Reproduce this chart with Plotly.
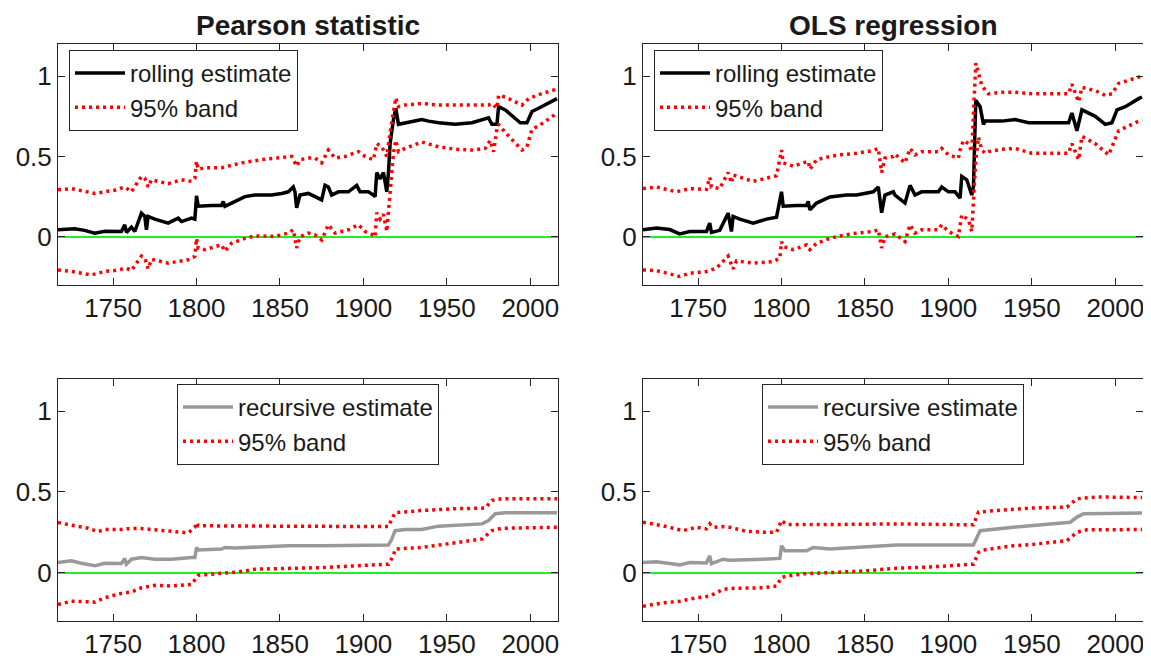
import plotly.graph_objects as go

# ---------------- data ----------------
# Pearson statistic, rolling estimate
p_roll_year = [1717, 1721, 1727, 1733, 1739, 1745, 1755, 1757, 1758, 1761, 1763, 1767, 1769, 1770, 1771, 1775,
               1783, 1789, 1791, 1797, 1799, 1800, 1801, 1809, 1815, 1816, 1817, 1821, 1829, 1835, 1845, 1851,
               1855, 1858, 1859, 1860, 1862, 1867, 1869, 1875, 1877, 1879, 1881, 1885, 1891, 1896, 1898, 1903,
               1906, 1907, 1908, 1910, 1912, 1914, 1915, 1916, 1918, 1919.4, 1921, 1925, 1935, 1939, 1945, 1955,
               1965, 1975, 1977, 1980, 1981, 1985, 1991, 1994, 1998, 2001, 2005, 2011, 2015, 2016]
p_roll_val = [0.044, 0.045, 0.05, 0.04, 0.023, 0.035, 0.033, 0.075, 0.027, 0.06, 0.033, 0.147, 0.127, 0.044, 0.127, 0.11,
              0.085, 0.116, 0.095, 0.116, 0.11, 0.255, 0.19, 0.195, 0.195, 0.22, 0.19, 0.21, 0.25, 0.26, 0.26, 0.27,
              0.28, 0.31, 0.28, 0.18, 0.26, 0.27, 0.26, 0.23, 0.32, 0.31, 0.26, 0.28, 0.28, 0.32, 0.28, 0.28,
              0.26, 0.25, 0.40, 0.36, 0.40, 0.28, 0.40, 0.58, 0.73, 0.80, 0.70, 0.71, 0.73, 0.72, 0.71, 0.70,
              0.71, 0.74, 0.70, 0.70, 0.81, 0.79, 0.74, 0.71, 0.71, 0.78, 0.80, 0.83, 0.85, 0.86]

p_up_year = [1717, 1725, 1739, 1751, 1757, 1759, 1761, 1767, 1769, 1771, 1773, 1783, 1791, 1797, 1799, 1800,
             1801, 1805, 1815, 1819, 1827, 1839, 1847, 1857, 1860, 1862, 1867, 1871, 1875, 1879, 1883, 1889,
             1897, 1901, 1906, 1908, 1911, 1914, 1916, 1918, 1919.4, 1921, 1925, 1935, 1945, 1965, 1975, 1977,
             1980, 1981, 1985, 1991, 1995, 1999, 2005, 2016]
p_up_val = [0.293, 0.30, 0.27, 0.29, 0.31, 0.295, 0.28, 0.376, 0.365, 0.31, 0.355, 0.33, 0.355, 0.345, 0.365, 0.47,
            0.42, 0.43, 0.43, 0.44, 0.46, 0.48, 0.49, 0.50, 0.44, 0.48, 0.49, 0.49, 0.46, 0.54, 0.49, 0.50,
            0.53, 0.50, 0.48, 0.58, 0.56, 0.50, 0.65, 0.79, 0.865, 0.81, 0.82, 0.83, 0.82, 0.82, 0.82, 0.83,
            0.80, 0.88, 0.87, 0.84, 0.82, 0.86, 0.885, 0.92]

p_lo_year = [1717, 1725, 1737, 1745, 1751, 1758, 1761, 1767, 1769, 1771, 1773, 1783, 1795, 1799, 1800, 1801,
             1805, 1815, 1817, 1821, 1829, 1835, 1847, 1855, 1858, 1860, 1862, 1867, 1871, 1875, 1879, 1883,
             1891, 1897, 1901, 1906, 1907, 1908, 1910, 1912, 1914, 1916, 1918, 1919.4, 1921, 1925, 1935, 1945,
             1955, 1965, 1973, 1976, 1978, 1980, 1981, 1985, 1991, 1995, 1998, 2001, 2005, 2016]
p_lo_val = [-0.206, -0.216, -0.237, -0.216, -0.21, -0.195, -0.21, -0.12, -0.13, -0.2, -0.14, -0.164, -0.143, -0.122, -0.01, -0.07,
            -0.08, -0.05, -0.09, -0.04, -0.01, 0.006, 0.002, 0.023, 0.044, -0.07, 0.0, 0.023, 0.012, -0.02, 0.075, 0.023,
            0.044, 0.075, 0.033, 0.012, 0.0, 0.15, 0.11, 0.14, 0.033, 0.29, 0.52, 0.60, 0.53, 0.55, 0.59, 0.56,
            0.545, 0.54, 0.55, 0.60, 0.53, 0.67, 0.70, 0.65, 0.58, 0.54, 0.56, 0.67, 0.69, 0.77]

# OLS regression, rolling estimate
o_roll_year = [1717, 1725, 1733, 1739, 1745, 1755, 1757, 1758, 1763, 1768, 1770, 1771, 1775, 1783, 1791, 1797,
               1800, 1801, 1809, 1815, 1816, 1817, 1821, 1829, 1839, 1845, 1855, 1858, 1860, 1862, 1867, 1868,
               1874, 1877, 1880, 1884, 1894, 1896, 1900, 1904, 1907, 1908, 1911, 1914, 1915, 1916.4, 1919, 1921,
               1922, 1932, 1940, 1948, 1960, 1972, 1974, 1977, 1980, 1984, 1988, 1994, 1998, 2001, 2006, 2014, 2016]
o_roll_val = [0.044, 0.054, 0.045, 0.018, 0.033, 0.033, 0.085, 0.027, 0.04, 0.147, 0.033, 0.127, 0.11, 0.085, 0.11, 0.122,
              0.28, 0.19, 0.195, 0.195, 0.22, 0.168, 0.21, 0.248, 0.26, 0.26, 0.28, 0.31, 0.15, 0.26, 0.28, 0.26,
              0.21, 0.32, 0.26, 0.28, 0.28, 0.31, 0.28, 0.28, 0.24, 0.376, 0.355, 0.26, 0.31, 0.85, 0.81, 0.70,
              0.72, 0.72, 0.73, 0.71, 0.71, 0.71, 0.77, 0.66, 0.79, 0.77, 0.75, 0.70, 0.71, 0.79, 0.81, 0.86, 0.87]

o_up_year = [1717, 1725, 1737, 1745, 1755, 1757, 1758, 1763, 1768, 1770, 1771, 1775, 1783, 1791, 1797, 1800,
             1801, 1807, 1816, 1817, 1821, 1829, 1835, 1845, 1855, 1858, 1860, 1862, 1867, 1868, 1874, 1877,
             1880, 1884, 1894, 1896, 1900, 1906, 1907, 1909, 1912, 1914, 1916.4, 1918, 1920, 1924, 1932, 1940,
             1950, 1972, 1974, 1978, 1980, 1984, 1988, 1994, 1998, 2002, 2016]
o_up_val = [0.30, 0.31, 0.28, 0.30, 0.295, 0.37, 0.31, 0.30, 0.40, 0.335, 0.385, 0.37, 0.345, 0.365, 0.38, 0.54,
            0.46, 0.44, 0.47, 0.42, 0.48, 0.50, 0.51, 0.52, 0.537, 0.55, 0.40, 0.49, 0.50, 0.515, 0.46, 0.55,
            0.51, 0.53, 0.53, 0.55, 0.51, 0.49, 0.54, 0.60, 0.58, 0.53, 1.08, 1.02, 0.94, 0.89, 0.90, 0.90,
            0.89, 0.89, 0.95, 0.84, 0.93, 0.92, 0.91, 0.88, 0.89, 0.955, 1.0]

o_lo_year = [1717, 1725, 1739, 1745, 1755, 1758, 1761, 1768, 1771, 1773, 1783, 1795, 1799, 1800, 1801, 1807,
             1815, 1817, 1821, 1829, 1835, 1845, 1855, 1858, 1860, 1862, 1867, 1868, 1874, 1877, 1880, 1884,
             1894, 1896, 1900, 1906, 1908, 1912, 1914, 1916.4, 1918, 1920, 1922, 1924, 1932, 1940, 1950, 1972,
             1974, 1978, 1980, 1984, 1988, 1996, 2002, 2016]
o_lo_val = [-0.206, -0.21, -0.247, -0.227, -0.216, -0.206, -0.195, -0.12, -0.2, -0.15, -0.164, -0.154, -0.133, -0.03, -0.06, -0.08,
            -0.05, -0.08, -0.04, -0.01, 0.006, 0.023, 0.033, 0.044, -0.07, 0.0, 0.012, 0.018, -0.03, 0.075, 0.023, 0.044,
            0.044, 0.075, 0.033, 0.002, 0.137, 0.106, 0.033, 0.48, 0.62, 0.54, 0.52, 0.53, 0.545, 0.55, 0.52, 0.52,
            0.58, 0.48, 0.625, 0.60, 0.58, 0.51, 0.66, 0.73]

# Pearson statistic, recursive estimate
p_rec_year = [1717, 1725, 1731, 1739, 1745, 1755, 1757, 1758, 1761, 1767, 1775, 1785, 1797, 1799, 1800, 1801,
              1815, 1817, 1823, 1835, 1855, 1875, 1895, 1915, 1917, 1919, 1925, 1935, 1945, 1955, 1971, 1975,
              1979, 1985, 2016]
p_rec_val = [0.0625, 0.073, 0.058, 0.042, 0.058, 0.056, 0.088, 0.052, 0.083, 0.094, 0.083, 0.083, 0.094, 0.094, 0.156, 0.14,
             0.146, 0.156, 0.152, 0.156, 0.167, 0.167, 0.171, 0.171, 0.208, 0.26, 0.267, 0.267, 0.288, 0.292, 0.302, 0.323,
             0.365, 0.371, 0.371]
p_rup_year = [1717, 1725, 1735, 1741, 1745, 1755, 1757, 1765, 1775, 1785, 1795, 1799, 1800, 1801, 1815, 1855,
              1895, 1915, 1917, 1919, 1935, 1955, 1973, 1977, 1983, 2016]
p_rup_val = [0.31, 0.296, 0.275, 0.254, 0.267, 0.267, 0.271, 0.275, 0.267, 0.254, 0.246, 0.281, 0.31, 0.29, 0.29, 0.29,
             0.285, 0.285, 0.333, 0.371, 0.385, 0.396, 0.40, 0.448, 0.458, 0.458]
p_rlo_year = [1717, 1725, 1739, 1745, 1755, 1761, 1767, 1775, 1785, 1797, 1800, 1801, 1815, 1825, 1835, 1855,
              1875, 1895, 1915, 1918, 1919, 1935, 1955, 1971, 1977, 1983, 2016]
p_rlo_val = [-0.198, -0.177, -0.183, -0.156, -0.129, -0.12, -0.094, -0.079, -0.083, -0.073, -0.031, -0.017, -0.004, 0.004, 0.021, 0.025,
             0.031, 0.042, 0.052, 0.104, 0.146, 0.156, 0.1875, 0.208, 0.26, 0.275, 0.281]

# OLS regression, recursive estimate
o_rec_year = [1717, 1725, 1733, 1739, 1745, 1755, 1757, 1758, 1765, 1769, 1789, 1799, 1800, 1802, 1815, 1819,
              1829, 1849, 1869, 1915, 1917, 1919, 1939, 1959, 1973, 1977, 1981, 2016]
o_rec_val = [0.0625, 0.067, 0.056, 0.048, 0.0625, 0.06, 0.104, 0.056, 0.083, 0.077, 0.083, 0.088, 0.167, 0.135, 0.135, 0.156,
             0.146, 0.16, 0.171, 0.171, 0.22, 0.26, 0.281, 0.298, 0.3125, 0.344, 0.365, 0.369]
o_rup_year = [1717, 1729, 1741, 1749, 1755, 1757, 1759, 1765, 1769, 1779, 1789, 1797, 1800, 1803, 1829, 1849,
              1869, 1915, 1918, 1929, 1949, 1971, 1977, 1989, 2016]
o_rup_val = [0.3125, 0.29, 0.26, 0.281, 0.271, 0.302, 0.281, 0.285, 0.281, 0.256, 0.25, 0.25, 0.323, 0.298, 0.298, 0.302,
             0.302, 0.296, 0.375, 0.385, 0.40, 0.406, 0.458, 0.469, 0.465]
o_rlo_year = [1717, 1729, 1739, 1749, 1757, 1765, 1769, 1789, 1797, 1800, 1803, 1815, 1829, 1849, 1869, 1889,
              1915, 1918, 1921, 1939, 1949, 1971, 1977, 1983, 2016]
o_rlo_val = [-0.208, -0.188, -0.177, -0.156, -0.146, -0.104, -0.098, -0.094, -0.083, -0.031, -0.021, -0.006, 0.0, 0.01, 0.027, 0.035,
             0.052, 0.125, 0.14, 0.167, 0.173, 0.198, 0.25, 0.265, 0.267]

titles = ["Pearson statistic", "OLS regression"]
x_ticks = [1750, 1800, 1850, 1900, 1950, 2000]
y_ticks = [0, 0.5, 1]
y_tick_text = ["0", "0.5", "1"]

# ---------------- figure ----------------
OFF = 8                      # page body margin of the browser
W, H = 1151 - OFF, 662 - OFF
FONT = "Liberation Sans, Arial, sans-serif"
TXT = "#1a1a1a"
AX = "#262626"
RED = "#ff0000"
GRAY = "#999999"

fig = go.Figure()

panels = [
    ("x", "y", "legend", p_roll_year, p_roll_val, "rolling estimate", "black", p_up_year, p_up_val, p_lo_year, p_lo_val),
    ("x2", "y2", "legend2", o_roll_year, o_roll_val, "rolling estimate", "black", o_up_year, o_up_val, o_lo_year, o_lo_val),
    ("x3", "y3", "legend3", p_rec_year, p_rec_val, "recursive estimate", GRAY, p_rup_year, p_rup_val, p_rlo_year, p_rlo_val),
    ("x4", "y4", "legend4", o_rec_year, o_rec_val, "recursive estimate", GRAY, o_rup_year, o_rup_val, o_rlo_year, o_rlo_val),
]

for xa, ya, lg, mx, my, mname, mcol, ux, uy, lx, ly in panels:
    fig.add_trace(go.Scatter(x=mx, y=my, mode="lines", name=mname, xaxis=xa, yaxis=ya, legend=lg,
                             line=dict(color=mcol, width=3.5)))
    fig.add_trace(go.Scatter(x=ux, y=uy, mode="lines", name="95% band", xaxis=xa, yaxis=ya, legend=lg,
                             line=dict(color=RED, width=3.5, dash="3px,4px")))
    fig.add_trace(go.Scatter(x=lx, y=ly, mode="lines", name="95% band", xaxis=xa, yaxis=ya, legend=lg,
                             showlegend=False, line=dict(color=RED, width=3.5, dash="3px,4px")))

def px_x(p):
    return (p - OFF) / W

def px_y(p):
    return 1 - (p - OFF) / H

xdom_l = [px_x(58), px_x(558)]
xdom_r = [px_x(643), px_x(1143)]
ydom_t = [px_y(285), px_y(44)]
ydom_b = [px_y(621), px_y(379)]

axis_common = dict(showline=True, linecolor=AX, linewidth=1, mirror="ticks", ticks="inside",
                   ticklen=7, tickcolor=AX, tickwidth=1, showgrid=False,
                   tickfont=dict(family=FONT, size=26, color=TXT))

layout = dict(
    width=W, height=H, paper_bgcolor="white", plot_bgcolor="white",
    margin=dict(l=0, r=0, t=0, b=0),
    font=dict(family=FONT, color=TXT),
)
doms = {"": (xdom_l, ydom_t), "2": (xdom_r, ydom_t), "3": (xdom_l, ydom_b), "4": (xdom_r, ydom_b)}
for k, (xd, yd) in doms.items():
    layout["xaxis" + k] = dict(domain=xd, anchor="y" + k, range=[1717, 2016.6], tickvals=x_ticks,
                               zeroline=False, **axis_common)
    layout["yaxis" + k] = dict(domain=yd, anchor="x" + k, range=[-0.3, 1.2], tickvals=y_ticks,
                               ticktext=y_tick_text, zeroline=True, zerolinecolor="#22ee22",
                               zerolinewidth=1.5, **axis_common)

leg_common = dict(bgcolor="white", bordercolor=AX, borderwidth=1, font=dict(family=FONT, size=24, color=TXT),
                  xanchor="left", yanchor="top", itemwidth=50, tracegroupgap=0)
layout["legend"] = dict(x=px_x(69), y=px_y(50), **leg_common)
layout["legend2"] = dict(x=px_x(654), y=px_y(50), **leg_common)
layout["legend3"] = dict(x=px_x(177), y=px_y(384), **leg_common)
layout["legend4"] = dict(x=px_x(762), y=px_y(384), **leg_common)

title_font = dict(family=FONT, size=28, color=TXT)
layout["annotations"] = [
    dict(text="<b>" + titles[0] + "</b>", x=(xdom_l[0] + xdom_l[1]) / 2, y=px_y(9), xref="paper", yref="paper",
         showarrow=False, font=title_font, xanchor="center", yanchor="top", borderpad=0),
    dict(text="<b>" + titles[1] + "</b>", x=(xdom_r[0] + xdom_r[1]) / 2, y=px_y(9), xref="paper", yref="paper",
         showarrow=False, font=title_font, xanchor="center", yanchor="top", borderpad=0),
]

fig.update_layout(**layout)
fig.write_html("out.html")
